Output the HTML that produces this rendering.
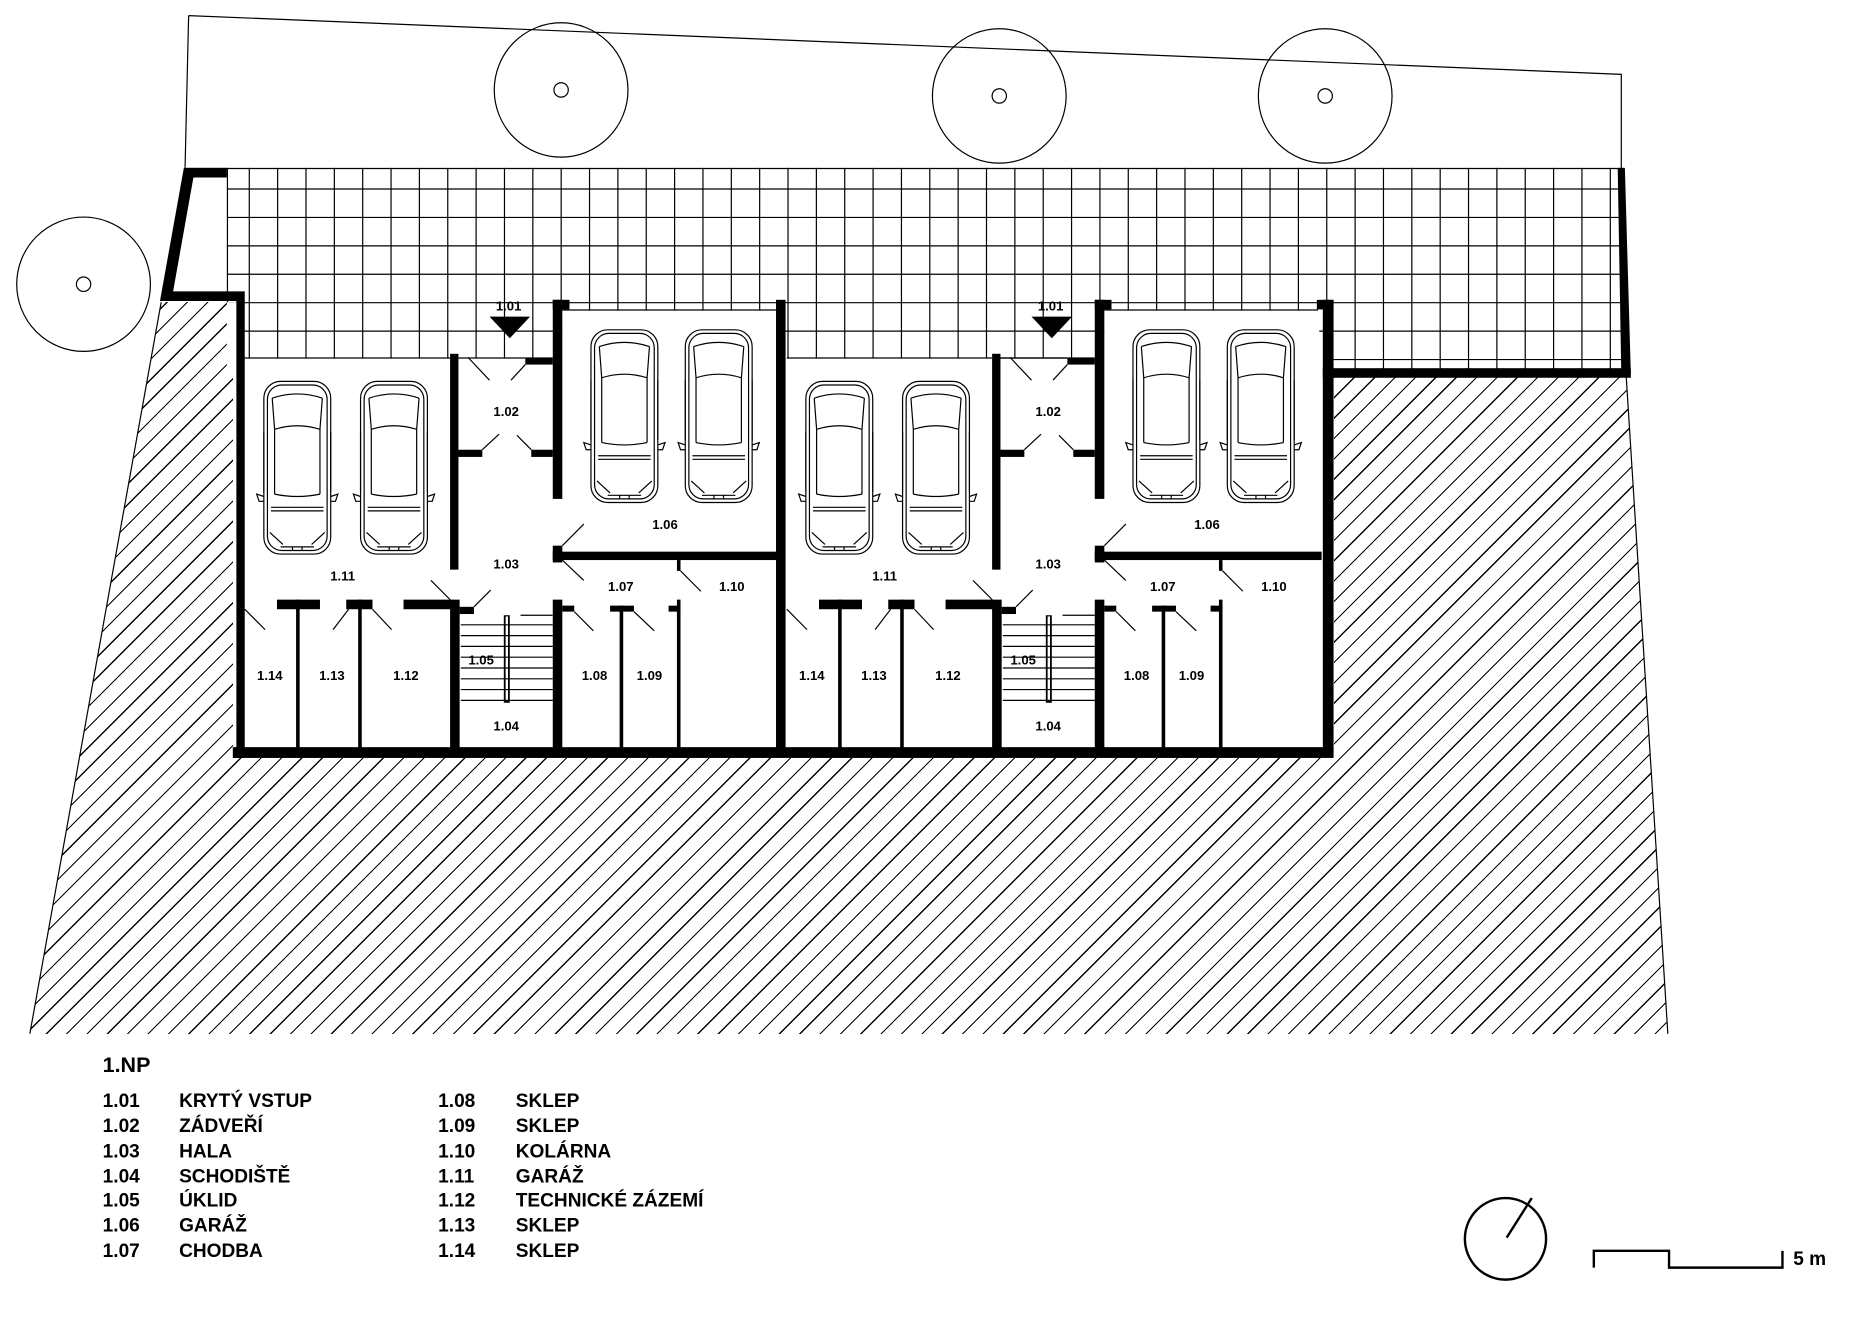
<!DOCTYPE html>
<html><head><meta charset="utf-8"><style>
html,body{margin:0;padding:0;background:#fff}
#wrap{position:relative;width:1872px;height:1324px;overflow:hidden;background:#fff}
#hatch{position:absolute;left:0;top:0;width:1872px;height:1324px;
background-image:repeating-linear-gradient(135deg,#000 0 1.2px,transparent 1.2px 14.4px);
clip-path:polygon(161px 302px,30px 1034px,1668px 1034px,1626px 374px,1334px 374px,1334px 758px,233px 758px,233px 302px);}
svg{position:absolute;left:0;top:0;display:block}
text{font-family:"Liberation Sans",sans-serif;font-weight:bold;fill:#000}
.l{font-size:11px;text-anchor:middle}
.g{font-size:16px}
</style></head><body><div id="wrap">
<div id="hatch"></div>
<svg width="1872" height="1324" viewBox="0 0 1568 1104" preserveAspectRatio="none" xmlns="http://www.w3.org/2000/svg">
<defs>
<g id="car" fill="none" stroke="#000" stroke-width="1">
<rect x="-28" y="-72" width="56" height="144" rx="14"/>
<rect x="-25" y="-69" width="50" height="138" rx="12"/>
<path d="M-21 -58 Q0 -65 21 -58 M-19 -32 Q0 -38 19 -32 M-19 22 Q0 26 19 22 M-22 33 L22 33 M-22 36 L22 36 M-21 -58 L-19 -32 M21 -58 L19 -32 M-19 -32 L-19 22 M19 -32 L19 22"/>
<path d="M-28 -30 L-28 20 M28 -30 L28 20 M-28 24 L-34 22 L-32 28 L-28 28 M28 24 L34 22 L32 28 L28 28"/>
<path d="M-14 66 L14 66 M-23 54 L-12 64 M23 54 L12 64 M-4 66 L-4 69 M4 66 L4 69"/>
</g>
<g id="mod">
<g fill="#000">
<rect x="377" y="295" width="7" height="180"/>
<rect x="384" y="375" width="20" height="6"/>
<rect x="445" y="375" width="18" height="6"/>
<rect x="463" y="250" width="8" height="166"/>
<rect x="463" y="250" width="14" height="8"/>
<rect x="440" y="298" width="23" height="6"/>
<rect x="463" y="455" width="8" height="14"/>
<rect x="463" y="460" width="190" height="7"/>
<rect x="463" y="500" width="8" height="128"/>
<rect x="377" y="500" width="8" height="128"/>
<rect x="385" y="506" width="12" height="6"/>
<rect x="232" y="500" width="36" height="8"/>
<rect x="248" y="500" width="3" height="128"/>
<rect x="290" y="500" width="22" height="8"/>
<rect x="300" y="500" width="3" height="128"/>
<rect x="338" y="500" width="40" height="8"/>
<rect x="471" y="505" width="10" height="5"/>
<rect x="511" y="505" width="20" height="5"/>
<rect x="519" y="505" width="3" height="123"/>
<rect x="560" y="505" width="10" height="5"/>
<rect x="567" y="500" width="3" height="128"/>
<rect x="567" y="467" width="3" height="9"/>
<rect x="422" y="513" width="5" height="73"/>
</g>
<rect x="423.5" y="514" width="2" height="70" fill="#fff"/>
<line x1="205" y1="298.5" x2="377" y2="298.5" stroke="#000"/>
<line x1="384" y1="298.5" x2="440" y2="298.5" stroke="#000"/>
<line x1="471" y1="258.5" x2="650" y2="258.5" stroke="#000"/>
<g stroke="#000" stroke-width="1">
<line x1="386" y1="521" x2="463" y2="521"/><line x1="386" y1="530" x2="463" y2="530"/>
<line x1="386" y1="539" x2="463" y2="539"/><line x1="386" y1="548" x2="463" y2="548"/>
<line x1="386" y1="557" x2="463" y2="557"/><line x1="386" y1="566" x2="463" y2="566"/>
<line x1="386" y1="575" x2="463" y2="575"/><line x1="386" y1="584" x2="463" y2="584"/>
<line x1="436" y1="513" x2="463" y2="513"/>
<line x1="392" y1="298" x2="410" y2="317"/><line x1="440" y1="304" x2="428" y2="317"/>
<line x1="404" y1="375" x2="418" y2="362"/><line x1="445" y1="375" x2="433" y2="363"/>
<line x1="471" y1="455" x2="489" y2="437"/><line x1="471" y1="467" x2="489" y2="484"/>
<line x1="570" y1="476" x2="587" y2="493"/>
<line x1="361" y1="484" x2="377" y2="500"/><line x1="397" y1="506" x2="411" y2="492"/>
<line x1="205" y1="508" x2="222" y2="525"/><line x1="292" y1="508" x2="279" y2="525"/>
<line x1="312" y1="508" x2="328" y2="525"/>
<line x1="481" y1="510" x2="497" y2="526"/><line x1="531" y1="510" x2="548" y2="526"/>
</g>
<use href="#car" x="249" y="390"/>
<use href="#car" x="330" y="390"/>
<use href="#car" x="523" y="347"/>
<use href="#car" x="602" y="347"/>
<text class="l" x="426" y="259">1.01</text>
<path d="M410 264 L444 264 L427 282 Z" fill="#000"/>
<text class="l" x="424" y="347">1.02</text>
<text class="l" x="287" y="484">1.11</text>
<text class="l" x="424" y="474">1.03</text>
<text class="l" x="557" y="441">1.06</text>
<text class="l" x="520" y="493">1.07</text>
<text class="l" x="613" y="493">1.10</text>
<text class="l" x="226" y="567">1.14</text>
<text class="l" x="278" y="567">1.13</text>
<text class="l" x="340" y="567">1.12</text>
<text class="l" x="403" y="554">1.05</text>
<text class="l" x="498" y="567">1.08</text>
<text class="l" x="544" y="567">1.09</text>
<text class="l" x="424" y="609">1.04</text>
</g>
</defs>

<path d="M158 13 L1358 62 L1358 140 M158 13 L155 140" fill="none" stroke="#000" stroke-width="1"/>
<g fill="none" stroke="#000" stroke-width="1">
<circle cx="470" cy="75" r="56"/><circle cx="470" cy="75" r="6"/>
<circle cx="837" cy="80" r="56"/><circle cx="837" cy="80" r="6"/>
<circle cx="1110" cy="80" r="56"/><circle cx="1110" cy="80" r="6"/>
<circle cx="70" cy="237" r="56"/><circle cx="70" cy="237" r="6"/>
</g>
<!-- grid -->
<g stroke="#000" stroke-width="1" fill="none">
<path d="M155 140.5H1360 M190 157.6H1358 M190 181.3H1358 M190 205H1358 M190 228.7H1358 M190 252.4H1358 M190 276.1H1358 M190 299.8H1358"/>
<path d="M190.5 140V252 M208.8 140V312 M232.55 140V312 M256.3 140V312 M280.05 140V312 M303.8 140V312 M327.55 140V312 M351.3 140V312 M375.05 140V312 M398.8 140V312 M422.55 140V312 M446.3 140V312 M470.05 140V312 M493.8 140V312 M517.55 140V312 M541.3 140V312 M565.05 140V312 M588.8 140V312 M612.55 140V312 M636.3 140V312 M660.05 140V312 M683.8 140V312 M707.55 140V312 M731.3 140V312 M755.05 140V312 M778.8 140V312 M802.55 140V312 M826.3 140V312 M850.05 140V312 M873.8 140V312 M897.55 140V312 M921.3 140V312 M945.05 140V312 M968.8 140V312 M992.55 140V312 M1016.3 140V312 M1040.05 140V312 M1063.8 140V312 M1087.55 140V312 M1111.3 140V312 M1135.05 140V312 M1158.8 140V312 M1182.55 140V312 M1206.3 140V312 M1230.05 140V312 M1253.8 140V312 M1277.55 140V312 M1301.3 140V312 M1325.05 140V312 M1348.8 140V312"/>
</g>
<path d="M135 252 L25 862 M1362 312 L1397 862" stroke="#000" fill="none"/>
<!-- cover grid outside -->
<rect x="190" y="252" width="8" height="60" fill="#fff"/>
<rect x="1117" y="315" width="250" height="10" fill="none"/>
<!-- interior white -->
<rect x="205" y="299" width="905" height="326" fill="#fff"/>
<rect x="471" y="259" width="180" height="41" fill="#fff"/>
<rect x="925" y="259" width="180" height="41" fill="#fff"/>
<line x1="836" y1="298.5" x2="894" y2="298.5" stroke="#000"/>
<g fill="#000">
<path d="M154 140 L190 140 L190 148 L162 148 L145 243 L205 243 L205 632 L198 632 L198 251 L134 251 Z"/>
<rect x="195" y="623" width="922" height="9"/>
<rect x="650" y="250" width="8" height="378"/>
<rect x="1108" y="250" width="9" height="378"/>
<rect x="1103" y="250" width="14" height="8"/>
<rect x="1108" y="307" width="258" height="8"/>
<path d="M1355 140 L1361 140 L1366 312 L1358 312 Z"/>
</g>
<use href="#mod"/>
<use href="#mod" transform="translate(454,0)"/>

<text x="86" y="894" style="font-size:18px">1.NP</text>
<g class="g">
<text x="86" y="923">1.01</text><text x="150" y="923">KRYTÝ VSTUP</text>
<text x="86" y="944">1.02</text><text x="150" y="944">ZÁDVEŘÍ</text>
<text x="86" y="965">1.03</text><text x="150" y="965">HALA</text>
<text x="86" y="986">1.04</text><text x="150" y="986">SCHODIŠTĚ</text>
<text x="86" y="1006">1.05</text><text x="150" y="1006">ÚKLID</text>
<text x="86" y="1027">1.06</text><text x="150" y="1027">GARÁŽ</text>
<text x="86" y="1048">1.07</text><text x="150" y="1048">CHODBA</text>
<text x="367" y="923">1.08</text><text x="432" y="923">SKLEP</text>
<text x="367" y="944">1.09</text><text x="432" y="944">SKLEP</text>
<text x="367" y="965">1.10</text><text x="432" y="965">KOLÁRNA</text>
<text x="367" y="986">1.11</text><text x="432" y="986">GARÁŽ</text>
<text x="367" y="1006">1.12</text><text x="432" y="1006">TECHNICKÉ ZÁZEMÍ</text>
<text x="367" y="1027">1.13</text><text x="432" y="1027">SKLEP</text>
<text x="367" y="1048">1.14</text><text x="432" y="1048">SKLEP</text>
</g>
<circle cx="1261" cy="1033" r="34" fill="none" stroke="#000" stroke-width="2"/>
<line x1="1262" y1="1032" x2="1283" y2="999" stroke="#000" stroke-width="2"/>
<path d="M1335 1057 L1335 1043 L1398 1043 L1398 1057 L1493 1057 L1493 1043" fill="none" stroke="#000" stroke-width="2"/>
<text x="1502" y="1055" style="font-size:16px">5 m</text>
</svg>
</div></body></html>
